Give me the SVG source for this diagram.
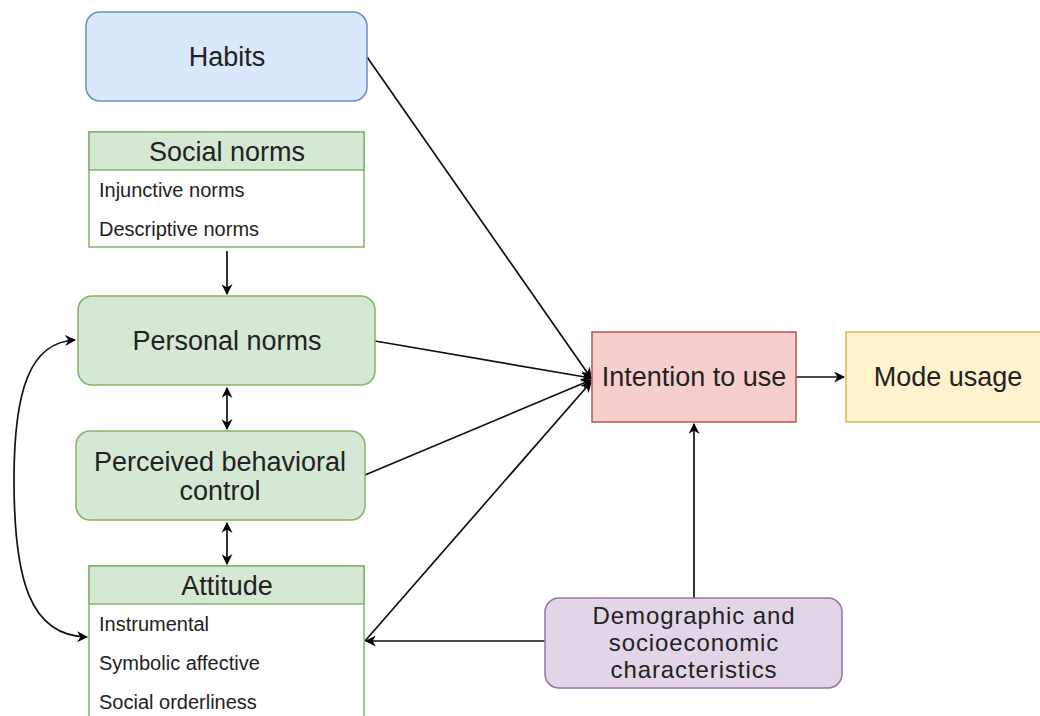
<svg xmlns="http://www.w3.org/2000/svg" width="1040" height="716" viewBox="0 0 1040 716">
<style>
.t{font-family:"Liberation Sans",Arial,sans-serif;fill:#222;}
.big{font-size:27px;text-anchor:middle;}
.dem{font-size:24px;letter-spacing:0.9px;text-anchor:middle;}
.small{font-size:20px;}
.c{fill:none;stroke:#111;stroke-width:1.7;}
.g{fill:#d5e8d4;stroke:#82b366;stroke-width:1.5;}
</style>
<defs>
<marker id="a" viewBox="0 0 10 10" refX="9" refY="5" markerWidth="11" markerHeight="11" orient="auto-start-reverse" markerUnits="userSpaceOnUse">
<path d="M0,0 L10,5 L0,10 L3,5 Z" fill="#000"/>
</marker>
</defs>
<rect width="1040" height="716" fill="#fff"/>
<g id="connectors">
<path class="c" d="M227,251 L227,294" marker-end="url(#a)"/>
<path class="c" d="M227,388 L227,429" marker-start="url(#a)" marker-end="url(#a)"/>
<path class="c" d="M227,523 L227,564" marker-start="url(#a)" marker-end="url(#a)"/>
<path class="c" d="M367,57 L591,378" marker-end="url(#a)"/>
<path class="c" d="M375,341 L591,378" marker-end="url(#a)"/>
<path class="c" d="M365,475 L591,380" marker-end="url(#a)"/>
<path class="c" d="M365,641 L591,382" marker-end="url(#a)"/>
<path class="c" d="M545,641 L366,641" marker-end="url(#a)"/>
<path class="c" d="M694,598 L694,424" marker-end="url(#a)"/>
<path class="c" d="M796,377 L844,377" marker-end="url(#a)"/>
<path class="c" d="M75,340 C30,342 14,390 14,480 C14,580 30,636 87,637" marker-start="url(#a)" marker-end="url(#a)"/>
</g>
<g id="habits">
<rect x="86" y="12" width="281" height="89" rx="14" fill="#dae8fc" stroke="#6c8ebf" stroke-width="1.5"/>
<text class="t big" x="227" y="66">Habits</text>
</g>
<g id="social-norms">
<rect x="89" y="132" width="275" height="115" fill="#fff" stroke="#82b366" stroke-width="1.5"/>
<rect class="g" x="89" y="132" width="275" height="38"/>
<text class="t big" x="227" y="161">Social norms</text>
<text class="t small" x="99" y="197">Injunctive norms</text>
<text class="t small" x="99" y="236">Descriptive norms</text>
</g>
<g id="personal-norms">
<rect class="g" x="78" y="296" width="297" height="89" rx="14"/>
<text class="t big" x="227" y="350">Personal norms</text>
</g>
<g id="pbc">
<rect class="g" x="76" y="431" width="289" height="89" rx="14"/>
<text class="t big" x="220" y="471">Perceived behavioral</text>
<text class="t big" x="220" y="500">control</text>
</g>
<g id="attitude">
<rect x="89" y="566" width="275" height="160" fill="#fff" stroke="#82b366" stroke-width="1.5"/>
<rect class="g" x="89" y="566" width="275" height="38"/>
<text class="t big" x="227" y="595">Attitude</text>
<text class="t small" x="99" y="631">Instrumental</text>
<text class="t small" x="99" y="670">Symbolic affective</text>
<text class="t small" x="99" y="709">Social orderliness</text>
</g>
<g id="intention">
<rect x="592" y="332" width="204" height="90" fill="#f8cecc" stroke="#b85450" stroke-width="1.5"/>
<text class="t big" x="694" y="386">Intention to use</text>
</g>
<g id="mode-usage">
<rect x="846" y="332" width="200" height="90" fill="#fff2cc" stroke="#d6b656" stroke-width="1.5"/>
<text class="t big" x="948" y="386">Mode usage</text>
</g>
<g id="demographic">
<rect x="545" y="598" width="297" height="90" rx="14" fill="#e1d5e7" stroke="#9673a6" stroke-width="1.5"/>
<text class="t dem" x="694" y="624">Demographic and</text>
<text class="t dem" x="694" y="651">socioeconomic</text>
<text class="t dem" x="694" y="678">characteristics</text>
</g>
</svg>
